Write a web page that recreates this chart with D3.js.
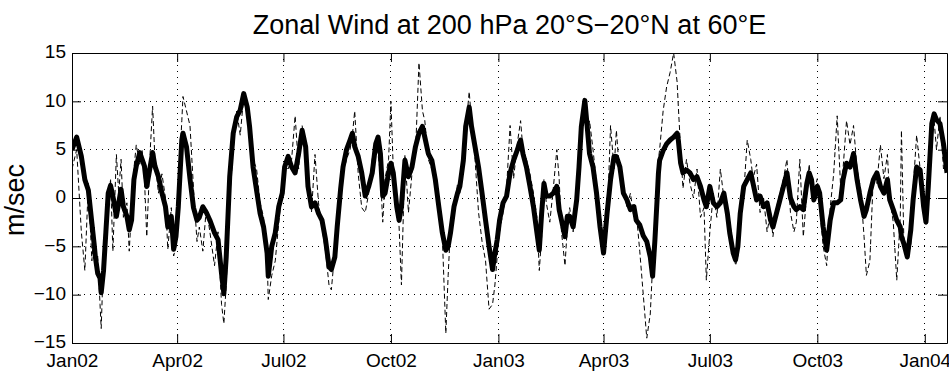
<!DOCTYPE html>
<html>
<head>
<meta charset="utf-8">
<script src="https://cdn.jsdelivr.net/npm/d3@7"></script>
<style>
  body { margin: 0; background: #fff; }
  .axis text { font-family: "Liberation Sans", Arial, sans-serif; font-size: 19px; fill: #000; }
  .axis path, .axis line { stroke: #000; }
  .grid line { stroke: #000; stroke-dasharray: 1,5; }
  .title { font-family: "Liberation Sans", Arial, sans-serif; font-size: 27px; }
  .ylabel { font-family: "Liberation Sans", Arial, sans-serif; font-size: 27px; }
</style>
</head>
<body>
<script>
// days after 1 Jan 2002
var days = [0,4,8,11,14,17,19,20,22,24,25,27,29,31,33,35,38,40,42,44,47,49,51,53,55,58,60,62,64,67,69,71,74,77,80,82,85,87,89,91,94,95,98,
  101,104,107,109,112,115,118,122,125,128,130,132,135,138,141,144,147,150,152,155,158,161,164,167,168,171,174,177,180,182,185,188,191,194,197,200,
  202,205,208,211,214,217,220,222,225,227,230,232,235,238,240,242,245,248,251,254,257,260,262,264,266,268,271,273,275,278,280,282,285,288,291,294,297,300,
  302,305,308,311,314,317,320,322,324,327,330,332,335,337,340,342,345,348,351,354,357,360,362,364,366,369,372,375,378,381,384,386,389,392,395,398,
  400,402,404,406,409,412,415,417,419,422,424,426,429,432,434,436,439,441,443,446,449,452,455,458,461,464,466,469,472,475,478,481,483,486,489,492,495,497,499,
  501,502,503,506,509,512,515,518,519,521,523,526,529,532,535,538,541,543,546,549,552,555,558,561,563,566,568,570,572,575,578,581,583,586,589,592,595,598,
  600,603,606,609,612,615,618,620,623,626,629,631,633,635,638,640,643,646,649,652,655,658,660,663,666,669,672,675,678,680,683,686,689,692,695,698,
  700,703,706,709,710,712,715,718,720,723,726,729,731,733,736,738,740,743,746,749];

// smoothed zonal wind (thick line), m/sec
var smooth = [5.0,6.3,4.3,1.9,0.8,-2.6,-4.8,-6.1,-7.8,-8.3,-9.8,-7.5,-3.5,0.5,1.3,0.2,-1.9,-0.5,0.9,-0.9,-1.9,-3.3,-2.3,1.9,3.3,4.7,4.0,3.3,1.2,3.3,4.7,3.3,2.2,0.5,-0.9,-3.0,-1.9,-5.3,-4.0,-0.9,6.0,6.7,5.3,
  2.0,-1.0,-2.3,-2.0,-0.9,-1.5,-2.3,-3.6,-4.3,-7.8,-9.9,-6.1,2.2,6.7,8.4,9.1,10.8,9.4,7.4,3.2,0.8,-1.6,-3.0,-5.7,-8.1,-5.0,-3.6,-0.9,0.5,3.2,4.3,3.2,2.6,4.6,7.0,5.3,
  1.2,-0.9,-0.5,-1.6,-2.3,-4.3,-7.1,-7.4,-6.1,-3.0,1.0,3.2,5.0,6.0,6.7,5.3,4.3,2.6,0.2,1.2,2.6,5.6,6.3,4.6,0.2,0.5,2.6,3.6,2.6,-0.9,-2.3,-0.9,3.9,2.2,3.2,5.3,6.7,7.4,
  6.3,4.6,3.9,1.9,-0.9,-3.6,-5.4,-5.0,-3.6,-0.9,0.5,1.2,3.9,7.4,9.4,7.4,5.3,3.2,0.5,-2.3,-5.0,-7.4,-5.7,-4.3,-2.3,-0.5,0.2,2.6,3.9,4.9,6.0,4.6,3.2,1.2,-0.9,-3.6,
  -5.4,-1.6,1.5,0.2,0.2,0.5,1.2,-1.2,-2.3,-4.0,-1.9,-1.9,-3.0,-0.2,3.2,7.4,10.1,7.4,4.6,3.2,0.5,-3.0,-5.7,-1.6,1.9,4.3,4.3,3.2,0.5,-0.2,-1.2,-0.9,-2.3,-2.8,-3.9,-4.5,-6.1,-8.1,-4.3,
  0.2,2.6,3.9,4.9,5.6,6.0,6.3,6.7,6.0,3.6,2.6,2.9,2.6,1.9,2.2,1.2,-0.2,-0.9,1.2,-0.5,-0.9,-0.5,0.5,-1.6,-3.6,-5.7,-6.4,-5.0,-1.6,1.2,1.9,2.6,1.5,-0.2,0.2,-0.9,-0.5,-2.3,
  -3.0,-1.6,-0.2,1.2,2.6,0.0,-0.9,-1.2,-0.9,-1.2,1.5,2.6,1.9,-0.2,1.2,0.5,-3.0,-5.4,-2.3,-0.5,-0.5,-0.2,1.9,3.6,3.2,4.6,1.9,-0.2,-1.9,-1.2,0.5,1.9,2.6,1.2,0.5,1.9,
  -0.2,-1.2,-2.3,-3.0,-4.0,-4.7,-6.1,-3.3,-0.2,3.2,2.9,-0.9,-2.5,1.2,7.7,8.7,8.1,7.7,5.6,2.6];

// daily zonal wind (thin dashed line), m/sec
var daily = [3.0,5.0,-3.5,-7.5,1.5,-6.5,-3.0,-6.8,-6.0,-11.0,-13.5,-6.0,-5.0,-1.5,2.0,-5.5,4.5,0.5,4.0,-2.0,-0.5,-5.5,-1.0,3.0,5.5,3.5,5.0,2.0,-4.0,5.0,9.5,4.0,0.5,2.5,0.0,-5.3,-1.0,-6.0,-5.0,1.0,8.0,10.5,9.0,
  7.5,1.0,-4.5,-3.0,-5.5,-1.0,-3.5,-7.0,-3.5,-11.0,-13.0,-9.0,0.0,5.0,9.0,6.5,10.5,8.5,8.5,4.0,3.0,-0.5,-2.0,-6.0,-10.5,-8.0,-6.5,-2.5,1.0,3.5,3.0,4.0,8.5,3.0,7.5,4.0,
  2.5,-1.5,4.5,-0.5,-3.0,-5.5,-9.0,-9.5,-5.5,-4.0,0.0,2.5,4.0,5.0,6.5,9.0,2.5,-1.0,-1.5,0.5,4.0,6.0,4.5,2.5,-2.5,2.0,4.0,10.0,3.0,0.0,-3.0,-9.0,4.5,-1.5,2.5,4.5,14.0,9.0,
  8.0,4.0,3.0,2.5,-1.5,-4.0,-14.0,-8.0,-3.0,-1.5,1.5,0.5,4.5,7.0,11.0,8.0,4.0,-1.5,-4.5,-6.5,-11.5,-11.0,-9.0,-6.0,-3.5,-1.5,1.0,7.5,2.0,5.5,8.0,5.0,4.0,2.5,0.5,-2.0,
  -7.5,-4.0,2.0,-0.5,-2.5,1.0,5.0,2.0,-3.5,-7.0,-3.0,-1.0,-3.5,0.5,2.0,6.5,9.5,6.0,8.0,5.0,1.5,-1.5,-5.0,-3.0,7.5,3.0,7.0,2.0,1.5,-1.0,0.5,-2.0,-1.5,-5.5,-10.0,-14.5,-12.0,-7.0,-5.5,
  -2.0,4.0,5.0,9.0,11.5,13.0,15.0,12.0,9.5,5.0,1.0,4.0,1.5,0.0,3.0,-2.0,-1.0,-8.5,-3.5,0.5,-2.0,3.0,0.0,-1.0,-2.5,-5.0,-7.0,-6.0,-2.5,0.5,6.0,4.0,2.0,3.5,-1.5,0.0,-3.5,-1.5,
  -4.0,-1.0,0.5,2.0,4.0,-1.5,-3.5,-2.5,4.0,-4.0,0.5,3.5,1.0,0.5,2.0,-1.0,-5.0,-7.0,-1.0,2.5,8.5,1.0,3.0,8.0,5.5,7.5,3.0,1.0,-4.0,-8.0,-6.5,2.5,1.5,5.5,2.0,4.5,
  0.0,-2.5,-8.5,-2.0,7.0,-4.0,-6.0,-5.0,1.0,6.5,3.0,1.0,-1.5,2.0,6.5,8.0,5.0,8.5,3.0,4.0];

var xTickDates = [new Date(2002, 0, 1), new Date(2002, 3, 1), new Date(2002, 6, 1), new Date(2002, 9, 1),
  new Date(2003, 0, 1), new Date(2003, 3, 1), new Date(2003, 6, 1), new Date(2003, 9, 1), new Date(2004, 0, 1)];
var yTicks = [-15, -10, -5, 0, 5, 10, 15];

var width = 949, height = 371;
var margin = { top: 53, right: 2, bottom: 28, left: 72 };
var start = new Date(2002, 0, 1);

var x = d3.scaleTime()
  .domain([start, d3.timeDay.offset(start, 749)])
  .range([margin.left, width - margin.right]);
var y = d3.scaleLinear()
  .domain([-15, 15])
  .range([height - margin.bottom, margin.top]);

var svg = d3.select("body").append("svg")
  .attr("width", width)
  .attr("height", height);

svg.append("clipPath").attr("id", "plot")
  .append("rect")
  .attr("x", margin.left).attr("y", margin.top)
  .attr("width", width - margin.right - margin.left)
  .attr("height", height - margin.bottom - margin.top);

// dotted grid
var grid = svg.append("g").attr("class", "grid").attr("shape-rendering", "crispEdges");
grid.selectAll(".gx").data(xTickDates.slice(1)).enter().append("line")
  .attr("x1", function(d) { return x(d); }).attr("x2", function(d) { return x(d); })
  .attr("y1", margin.top).attr("y2", height - margin.bottom);
grid.selectAll(".gy").data(yTicks.slice(1, -1)).enter().append("line")
  .attr("x1", margin.left).attr("x2", width - margin.right)
  .attr("y1", function(d) { return y(d); }).attr("y2", function(d) { return y(d); });

// lines
var line = function(vals) {
  return d3.line()
    .x(function(d, i) { return x(d3.timeDay.offset(start, days[i])); })
    .y(function(d) { return y(d); })(vals);
};
var plot = svg.append("g").attr("clip-path", "url(#plot)");
plot.append("path")
  .attr("d", line(daily))
  .attr("fill", "none")
  .attr("stroke", "#000")
  .attr("stroke-width", 1)
  .attr("stroke-dasharray", "5,3");
plot.append("path")
  .attr("d", line(smooth))
  .attr("fill", "none")
  .attr("stroke", "#000")
  .attr("stroke-width", 5)
  .attr("stroke-linejoin", "round");

// axes, ticks pointing inward
var fmt = d3.timeFormat("%b%y");
svg.append("g").attr("class", "axis")
  .attr("transform", "translate(0," + (height - margin.bottom) + ")")
  .call(d3.axisBottom(x).tickValues(xTickDates).tickFormat(fmt).tickSizeInner(-9).tickSizeOuter(0).tickPadding(11));
svg.append("g").attr("class", "axis")
  .attr("transform", "translate(0," + margin.top + ")")
  .call(d3.axisTop(x).tickValues(xTickDates).tickFormat("").tickSizeInner(-9).tickSizeOuter(0));
svg.append("g").attr("class", "axis")
  .attr("transform", "translate(" + margin.left + ",0)")
  .call(d3.axisLeft(y).tickValues(yTicks).tickFormat(function(d) { return d < 0 ? "\u2212" + (-d) : d; })
    .tickSizeInner(-9).tickSizeOuter(0).tickPadding(6))
  .selectAll("text").attr("dy", "0.26em");
svg.append("g").attr("class", "axis")
  .attr("transform", "translate(" + (width - margin.right) + ",0)")
  .call(d3.axisRight(y).tickValues(yTicks).tickFormat("").tickSizeInner(-9).tickSizeOuter(0));

// titles
svg.append("text")
  .attr("class", "title")
  .attr("x", (margin.left + width - margin.right) / 2)
  .attr("y", 34)
  .attr("text-anchor", "middle")
  .text("Zonal Wind at 200 hPa 20\u00b0S\u221220\u00b0N at 60\u00b0E");
svg.append("text")
  .attr("class", "ylabel")
  .attr("transform", "translate(24,200) rotate(-90)")
  .attr("text-anchor", "middle")
  .text("m/sec");
</script>
</body>
</html>
